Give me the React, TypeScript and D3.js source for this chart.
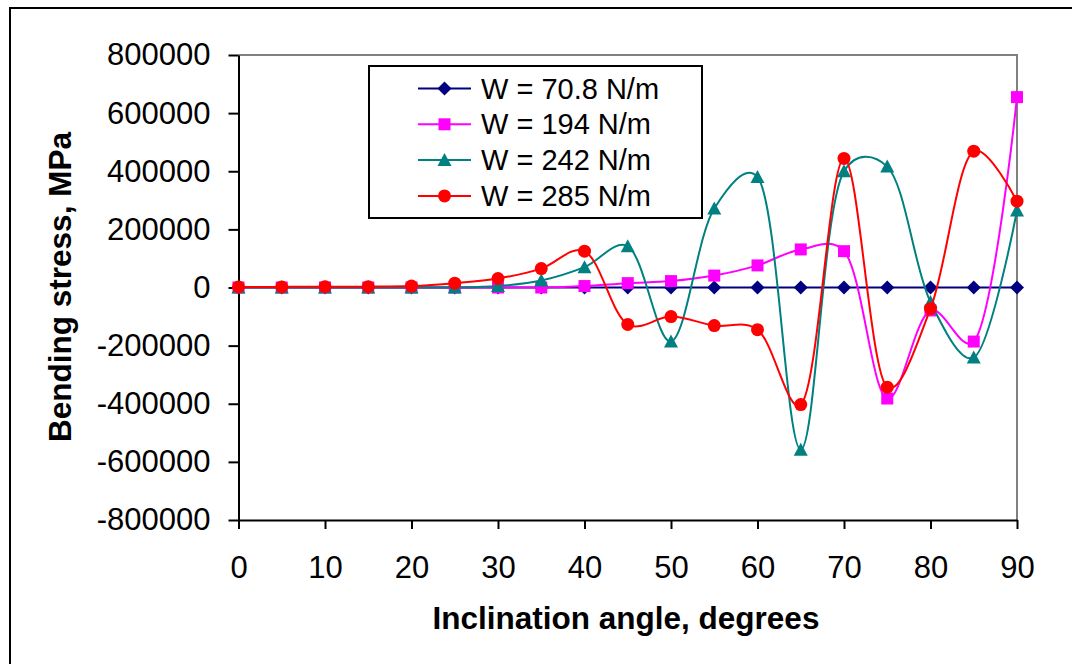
import React, { useEffect, useRef } from 'react';
import * as d3 from 'd3';

const angles = [0, 5, 10, 15, 20, 25, 30, 35, 40, 45, 50, 55, 60, 65, 70, 75, 80, 85, 90];

const w708 = [0, 0, 0, 0, 0, 0, 0, 0, 0, 0, 0, 0, 0, 0, 0, 0, 0, 0, 0];
const w194 = [0, 0, 0, 0, 0, 0, 0, 0, 5000, 15000, 22000, 41000, 76000, 131000, 125000, -382000, -79000, -186000, 655000];
const w242 = [0, 0, 0, 0, 0, 0, 5000, 24000, 70000, 142000, -186000, 272000, 380000, -558000, 400000, 416000, -50000, -241000, 265000];
const w285 = [2000, 2000, 3000, 3000, 5000, 15000, 31000, 65000, 125000, -127000, -100000, -131000, -145000, -403000, 444000, -343000, -73000, 469000, 297000];

const xTicks = [0, 10, 20, 30, 40, 50, 60, 70, 80, 90];
const yTicks = [-800000, -600000, -400000, -200000, 0, 200000, 400000, 600000, 800000];

const seriesNames = ['W = 70.8 N/m', 'W = 194 N/m', 'W = 242 N/m', 'W = 285 N/m'];
const seriesColors = ['#000080', '#FF00FF', '#008080', '#FF0000'];
const seriesMarkers = ['diamond', 'square', 'triangle', 'circle'];

const FONT = '"Liberation Sans", Arial, sans-serif';

const App = () => {
    const svgRef = useRef<SVGSVGElement>(null);

    useEffect(() => {
        const svg = d3.select(svgRef.current);
        svg.selectAll('*').remove();

        const x = d3.scaleLinear().domain([0, 90]).range([238.5, 1017]);
        const y = d3.scaleLinear().domain([-800000, 800000]).range([520, 55]);

        // outer chart frame
        svg.append('rect')
            .attr('x', 10).attr('y', 8)
            .attr('width', 1100).attr('height', 700)
            .attr('fill', 'white')
            .attr('stroke', 'black')
            .attr('stroke-width', 2);

        // plot area border (top/right grey)
        svg.append('path')
            .attr('d', `M${x(0)},${y(800000)}H${x(90)}V${y(-800000)}`)
            .attr('fill', 'none')
            .attr('stroke', '#808080')
            .attr('stroke-width', 2);

        const yAxis = svg.append('g')
            .attr('transform', `translate(${x(0)},0)`)
            .call(d3.axisLeft(y).tickValues(yTicks).tickSize(10).tickPadding(18).tickSizeOuter(0).tickFormat(d => String(d)));
        const xAxis = svg.append('g')
            .attr('transform', `translate(0,${y(-800000)})`)
            .call(d3.axisBottom(x).tickValues(xTicks).tickSize(9).tickPadding(27).tickSizeOuter(0).tickFormat(d => String(d)));

        [yAxis, xAxis].forEach(g => {
            g.select('.domain').attr('stroke', 'black').attr('stroke-width', 2);
            g.selectAll('.tick line').attr('stroke', 'black').attr('stroke-width', 2);
            g.selectAll('.tick text')
                .attr('fill', 'black')
                .style('font-family', FONT)
                .style('font-size', '31px');
        });

        // axis titles
        svg.append('text')
            .attr('x', 626).attr('y', 629)
            .attr('text-anchor', 'middle')
            .style('font-family', FONT)
            .style('font-size', '31.5px')
            .style('font-weight', 'bold')
            .text('Inclination angle, degrees');

        svg.append('text')
            .attr('transform', 'translate(71,287) rotate(-90)')
            .attr('text-anchor', 'middle')
            .style('font-family', FONT)
            .style('font-size', '31.5px')
            .style('font-weight', 'bold')
            .text('Bending stress, MPa');

        const drawMarker = (g, type, color, cx, cy) => {
            if (type === 'diamond') {
                g.append('path').attr('d', `M${cx},${cy - 7}L${cx + 7},${cy}L${cx},${cy + 7}L${cx - 7},${cy}Z`).attr('fill', color);
            } else if (type === 'square') {
                g.append('rect').attr('x', cx - 6).attr('y', cy - 6).attr('width', 12).attr('height', 12).attr('fill', color);
            } else if (type === 'triangle') {
                g.append('path').attr('d', `M${cx},${cy - 7}L${cx + 7},${cy + 6}L${cx - 7},${cy + 6}Z`).attr('fill', color);
            } else {
                g.append('circle').attr('cx', cx).attr('cy', cy).attr('r', 6.5).attr('fill', color);
            }
        };

        const allSeries = [w708, w194, w242, w285];
        const line = d3.line<number>()
            .x((_, i) => x(angles[i]))
            .y(d => y(d))
            .curve(d3.curveCatmullRom.alpha(0.3));

        allSeries.forEach((vals, si) => {
            const g = svg.append('g');
            g.append('path')
                .datum(vals)
                .attr('d', line)
                .attr('fill', 'none')
                .attr('stroke', seriesColors[si])
                .attr('stroke-width', 2);
            vals.forEach((v, i) => drawMarker(g, seriesMarkers[si], seriesColors[si], x(angles[i]), y(v)));
        });

        // legend
        const legend = svg.append('g');
        legend.append('rect')
            .attr('x', 369).attr('y', 66)
            .attr('width', 333).attr('height', 152)
            .attr('fill', 'white')
            .attr('stroke', 'black')
            .attr('stroke-width', 2);
        seriesNames.forEach((name, i) => {
            const cy = 88.5 + i * 35.8;
            legend.append('line')
                .attr('x1', 418).attr('x2', 471)
                .attr('y1', cy).attr('y2', cy)
                .attr('stroke', seriesColors[i])
                .attr('stroke-width', 2);
            drawMarker(legend, seriesMarkers[i], seriesColors[i], 444.5, cy);
            legend.append('text')
                .attr('x', 481).attr('y', cy + 10)
                .style('font-family', FONT)
                .style('font-size', '29px')
                .text(name);
        });
    }, []);

    return (
        <svg ref={svgRef} width={1072} height={664}
            style={{ position: 'absolute', left: 0, top: 0, background: 'white' }} />
    );
};

export default App;
